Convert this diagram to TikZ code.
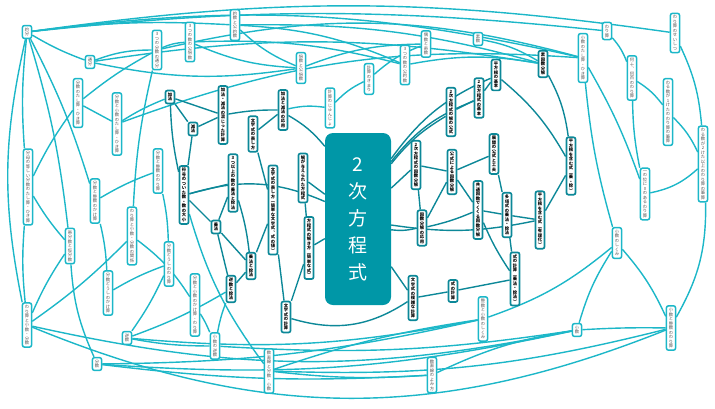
\documentclass[tikz,border=0pt]{standalone}
\usepackage{fontspec}
\setmainfont{Noto Sans CJK JP}
\usetikzlibrary{backgrounds}
\definecolor{lc}{RGB}{28,183,200}
\definecolor{dc}{RGB}{12,136,152}
\definecolor{cc}{RGB}{0,151,167}
\definecolor{tg}{RGB}{85,85,85}
\def\vt#1{\vtA#1\relax}
\def\vtA#1{#1\vtB}
\def\vtB#1{\ifx#1\relax\else\\#1\expandafter\vtB\fi}
\tikzset{
 ln/.style={draw=lc, line width=1.5pt, rounded corners=2pt, fill=white, inner xsep=2.4pt, inner ysep=2.2pt, align=center, text=tg, font=\fontsize{4.3}{4.5}\selectfont},
 dn/.style={ln, draw=dc, line width=1.7pt, text=black, font=\fontsize{4.3}{4.5}\selectfont\bfseries},
 le/.style={draw=lc, line width=1.4pt},
 de/.style={draw=dc, line width=1.4pt},
}
\begin{document}
\begin{tikzpicture}[x=1pt,y=-1pt]
\useasboundingbox (0,0) rectangle (715,408);
% light nodes
\node[ln] (yakubun) at (27,32) {\vt{約分}};
\node[ln] (tsubun) at (90,62) {\vt{通分}};
\node[ln] (tsubunC) at (157,50) {\vt{3つの分数の通分}};
\node[ln] (bunsutashi) at (78,103) {\vt{分数のたし算・ひき算}};
\node[ln] (bunshotashi) at (117,124) {\vt{分数と小数のたし算・ひき算}};
\node[ln] (yakusu) at (235,25) {\vt{約数と公約数}};
\node[ln] (kobaisuC) at (190,42) {\vt{3つの数の公倍数}};
\node[ln] (baisu) at (301,68) {\vt{倍数と公倍数}};
\node[ln] (keisanjun) at (330,108) {\vt{計算のじゅんじょ}};
\node[ln] (kimari) at (369,79) {\vt{計算のきまり}};
\node[ln] (koyakusuC) at (405,65) {\vt{3つの数の公約数}};
\node[ln] (gusu) at (426,44) {\vt{偶数と奇数}};
\node[ln] (sosu) at (478,39) {\vt{素数}};
\node[ln] (warizansei) at (675,33) {\vt{わり算のせいしつ}};
\node[ln] (warizan) at (607,31) {\vt{わり算}};
\node[ln] (shosutashi) at (583,58) {\vt{小数のたし算・ひき算}};
\node[ln] (nanju) at (632,78) {\vt{何十︑何百のわり算}};
\node[ln] (waruA) at (668,112) {\vt{わる数が1けたのわり算の筆算}};
\node[ln] (waruB) at (703,164) {\vt{わる数が2けた以上のわり算の筆算}};
\node[ln] (ichi) at (645,194) {\vt{一の位に0のあるわり算}};
\node[ln] (shosushikumi) at (617,243) {\vt{小数のしくみ}};
\node[ln] (bunbo) at (28,187) {\vt{分母の等しい分数のたし算・ひき算}};
\node[ln] (bunseikake) at (95,201) {\vt{分数と整数のかけ算}};
\node[ln] (bunseiwari) at (158,171) {\vt{分数と整数のわり算}};
\node[ln] (warikankei) at (132,236) {\vt{わり算と小数・分数の関係}};
\node[ln] (taibunsu) at (70,246) {\vt{帯分数と仮分数}};
\node[ln] (bundouwari) at (169,264) {\vt{分数どうしのわり算}};
\node[ln] (bundoukake) at (108,293) {\vt{分数どうしのかけ算}};
\node[ln] (warishobun) at (27,325) {\vt{わり算と小数・分数}};
\node[ln] (gyakusu) at (127,338) {\vt{逆数}};
\node[ln] (bunsu) at (97,364) {\vt{分数}};
\node[ln] (shoshokake) at (195,305) {\vt{分数と小数のかけ算・わり算}};
\node[ln] (shosugyaku) at (215,346) {\vt{小数の逆数}};
\node[ln] (suchokubun) at (269,371) {\vt{数直線と分数・小数}};
\node[ln] (seishoshikumi) at (483,319) {\vt{整数と小数のしくみ}};
\node[ln] (suchokuyomi) at (432,375) {\vt{数直線のよみ方}};
\node[ln] (shosu) at (577,330) {\vt{小数}};
\node[ln] (shoseiwari) at (671,328) {\vt{小数と整数のわり算}};
% dark nodes
\node[dn] (kaho) at (170,97) {\vt{加法}};
\node[dn] (genpo) at (193,129) {\vt{減法}};
\node[dn] (kagenmaji) at (223,115) {\vt{加法・減法の混じった計算}};
\node[dn] (mojiarawashi) at (253,134) {\vt{文字式の表し方}};
\node[dn] (kagenoyo) at (283,110) {\vt{加法と減法の応用}};
\node[dn] (fugo) at (184,195) {\vt{符号のついた数・数の大小}};
\node[dn] (jojoC) at (233,183) {\vt{3つ以上の数の乗法と除法}};
\node[dn] (joho) at (216,227) {\vt{乗法}};
\node[dn] (mojikantan) at (273,210) {\vt{文字式の表し方︵簡単な文字式︑式の値︶}};
\node[dn] (kaiga) at (303,178) {\vt{解が与えられた方程式}};
\node[dn] (hoteishiki) at (309,248) {\vt{方程式の解き方︵簡単な式︶}};
\node[dn] (joujo) at (251,266) {\vt{乗法と除法}};
\node[dn] (gyakujo) at (231,289) {\vt{逆数と除法}};
\node[dn] (mojikeisan) at (286,317) {\vt{文字式の計算}};
\node[dn] (mojifuku) at (413,298) {\vt{文字式の複雑な計算}};
\node[dn] (shikikeisan) at (453,291) {\vt{式の計算}};
\node[dn] (shikijojo) at (515,279) {\vt{式の計算︵乗法・除法︶}};
\node[dn] (takoshiki) at (507,215) {\vt{多項式の乗法・除法}};
\node[dn] (kyotsu) at (478,210) {\vt{共通因数でくくる因数分解}};
\node[dn] (inbunoyo) at (422,228) {\vt{因数分解の応用}};
\node[dn] (niinbun) at (416,165) {\vt{2次方程式の因数分解}};
\node[dn] (koshiki) at (452,172) {\vt{公式による因数分解}};
\node[dn] (tenkai) at (494,154) {\vt{展開の公式と工夫}};
\node[dn] (kainokoshiki) at (451,112) {\vt{2次方程式の解の公式}};
\node[dn] (nijikihon) at (479,98) {\vt{2次方程式の基本}};
\node[dn] (heihokihon) at (496,75) {\vt{平方根の基本}};
\node[dn] (soinsu) at (543,64) {\vt{素因数分解}};
\node[dn] (heijojo) at (571,166) {\vt{平方根を含む式︵乗・除︶}};
\node[dn] (heiyuri) at (540,220) {\vt{平方根を含む式︵有理化︶}};
% center
\node[fill=cc, rounded corners=8pt, minimum width=66pt, minimum height=172pt, text=white, align=center, font=\fontsize{19}{27}\selectfont] (center) at (358,219) {\vt{2次方程式}};

\begin{pgfonlayer}{background}
% light edges
\draw[le] (yakubun) to[bend left=8] (warizansei);
\draw[le] (yakubun) to[bend left=6] (warizan);
\draw[le] (yakubun) to[bend left=10] (shosutashi);
\draw[le] (yakubun) to[bend left=5] (yakusu);
\draw[le] (yakubun) to[bend right=5] (tsubun);
\draw[le] (yakubun) to[bend right=5] (bunbo);
\draw[le] (yakubun) to[bend left=5] (taibunsu);
\draw[le] (yakubun) to[bend right=12] (warishobun);
\draw[le] (yakubun) to[bend left=5] (bunseikake);
\draw[le] (tsubun) to[bend left=10] (tsubunC);
\draw[le] (tsubun) to[bend right=10] (baisu);
\draw[le] (tsubun) to[bend left=9] (soinsu);
\draw[le] (tsubunC) to[bend right=5] (bunsutashi);
\draw[le] (tsubunC) to[bend left=14] (shosutashi);
\draw[le] (tsubunC) to[bend right=5] (warikankei);
\draw[le] (tsubunC) to[bend left=10] (kobaisuC);
\draw[le] (kobaisuC) to[bend right=10] (baisu);
\draw[le] (kobaisuC) to[bend left=8] (koyakusuC);
\draw[le] (yakusu) to[bend right=10] (baisu);
\draw[le] (yakusu) to[bend left=10] (koyakusuC);
\draw[le] (yakusu) to[bend left=8] (soinsu);
\draw[le] (baisu) to[bend left=10] (gusu);
\draw[le] (sosu) to[bend left=10] (soinsu);
\draw[le] (koyakusuC) to[bend left=10] (soinsu);
\draw[le] (bunsutashi) to (bunshotashi);
\draw[le] (bunsutashi) to[bend right=5] (bunbo);
\draw[le] (bunshotashi) to[bend left=12] (shosutashi);
\draw[le] (bunshotashi) to[bend left=5] (kaho);
\draw[le] (bunbo) to[bend right=5] (taibunsu);
\draw[le] (bunseikake) to[bend left=5] (bunseiwari);
\draw[le] (bunseikake) to[bend left=5] (bundoukake);
\draw[le] (bunseiwari) to[bend left=5] (bundouwari);
\draw[le] (warikankei) to[bend left=5] (warishobun);
\draw[le] (taibunsu) to[bend right=5] (warishobun);
\draw[le] (bunbo) to[bend right=5] (warishobun);
\draw[le] (taibunsu) to[bend right=10] (bunsu);
\draw[le] (bundoukake) to[bend left=5] (bundouwari);
\draw[le] (gyakusu) to[bend right=5] (bundouwari);
\draw[le] (gyakusu) to[bend right=5] (shosugyaku);
\draw[le] (gyakusu) to[bend right=8] (seishoshikumi);
\draw[le] (shoshokake) to[bend left=5] (shosugyaku);
\draw[le] (warikankei) to[bend left=10] (shoshokake);
\draw[le] (warishobun) to[bend right=22] (shoseiwari);
\draw[le] (warishobun) to[bend right=12] (shosu);
\draw[le] (bunsu) to[bend right=8] (shosu);
\draw[le] (bunsu) to[bend right=5] (suchokuyomi);
\draw[le] (bunsu) to[bend right=6] (seishoshikumi);
\draw[le] (shosugyaku) to[bend right=6] (shosu);
\draw[le] (suchokubun) to[bend right=5] (suchokuyomi);
\draw[le] (suchokubun) to[bend left=5] (seishoshikumi);
\draw[le] (suchokubun) to[bend right=8] (shoseiwari);
\draw[le] (seishoshikumi) to[bend right=10] (shosushikumi);
\draw[le] (suchokuyomi) to[bend left=8] (shosu);
\draw[le] (shosushikumi) to[bend right=8] (shosu);
\draw[le] (shosushikumi) to[bend left=8] (shoseiwari);
\draw[le] (shosu) to[bend left=2] (shoseiwari);
\draw[le] (shoseiwari) to[bend right=15] (waruB);
\draw[le] (shosutashi) to[bend right=5] (shosushikumi);
\draw[le] (shosutashi) to[bend left=5] (ichi);
\draw[le] (warizan) to[bend left=10] (nanju);
\draw[le] (nanju) to[bend left=10] (waruA);
\draw[le] (nanju) to[bend right=5] (ichi);
\draw[le] (waruA) to[bend left=10] (waruB);
\draw[le] (warizansei) to[bend left=10] (waruB);
\draw[le] (ichi) to[bend right=15] (waruB);
\draw[le] (keisanjun) to[bend left=10] (kimari);
\draw[le] (keisanjun) to[bend right=10] (kagenoyo);
\draw[le] (kimari) to[bend left=10] (gusu);
\draw[le] (gyakusu) to[bend right=5] (gyakujo);
\draw[le] (shosugyaku) to[bend left=5] (gyakujo);
\draw[le] (suchokubun) to[bend left=10] (fugo);
% dark edges
\draw[de] (kaho) to (genpo);
\draw[de] (kaho) to (kagenmaji);
\draw[de] (genpo) to (kagenmaji);
\draw[de] (kaho) to[bend right=5] (fugo);
\draw[de] (kagenmaji) to[bend left=5] (kagenoyo);
\draw[de] (kagenoyo) to (mojiarawashi);
\draw[de] (mojiarawashi) to (mojikantan);
\draw[de] (genpo) to (fugo);
\draw[de] (fugo) to (jojoC);
\draw[de] (fugo) to (joho);
\draw[de] (jojoC) to (joho);
\draw[de] (jojoC) to[bend left=5] (joujo);
\draw[de] (joho) to (joujo);
\draw[de] (joho) to (gyakujo);
\draw[de] (gyakujo) to (joujo);
\draw[de] (joujo) to (mojikantan);
\draw[de] (mojikantan) to (mojikeisan);
\draw[de] (kaiga) to (hoteishiki);
\draw[de] (hoteishiki) to (mojikeisan);
\draw[de] (mojikeisan) to[bend right=25] (mojifuku);
\draw[de] (mojifuku) to (shikikeisan);
\draw[de] (shikikeisan) to (shikijojo);
\draw[de] (shikijojo) to (takoshiki);
\draw[de] (takoshiki) to (tenkai);
\draw[de] (takoshiki) to (kyotsu);
\draw[de] (kyotsu) to (koshiki);
\draw[de] (koshiki) to (inbunoyo);
\draw[de] (koshiki) to (niinbun);
\draw[de] (inbunoyo) to (niinbun);
\draw[de] (tenkai) to (koshiki);
\draw[de] (inbunoyo) to[bend right=5] (kyotsu);
\draw[de] (kyotsu) to[bend right=5] (shikijojo);
\draw[de] (takoshiki) to (heiyuri);
\draw[de] (heihokihon) to (nijikihon);
\draw[de] (nijikihon) to (kainokoshiki);
\draw[de] (heihokihon) to[bend left=10] (heijojo);
\draw[de] (heijojo) to (heiyuri);
\draw[de] (soinsu) to[bend left=10] (heijojo);
\draw[de] (fugo) to[bend left=20] (center);
\draw[de] (kaiga) to (center);
\draw[de] (hoteishiki) to (center);
\draw[de] (mojifuku) to (center);
\draw[de] (niinbun) to (center);
\draw[de] (kainokoshiki) to[bend right=10] (center);
\draw[de] (nijikihon) to[bend right=15] (center);
\draw[de] (heihokihon) to[bend right=15] (center);
\draw[de] (heiyuri) to[bend left=10] (center);
\draw[de] (inbunoyo) to[bend left=10] (center);
\draw[de] (kagenoyo) to[bend left=10] (center);
\end{pgfonlayer}
\end{tikzpicture}
\end{document}
